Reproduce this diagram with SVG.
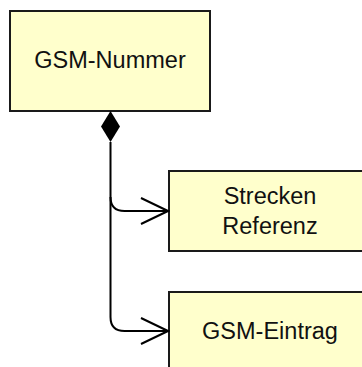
<svg xmlns="http://www.w3.org/2000/svg" width="362" height="367" viewBox="0 0 362 367">
  <style>
    .box { fill: #ffffcc; stroke: #1a1a1a; stroke-width: 2; }
    .lbl { font-family: "Liberation Sans", Arial, sans-serif; font-size: 23.5px; fill: #111; text-anchor: middle; }
    .conn { fill: none; stroke: #000; stroke-width: 2; }
  </style>
  <defs>
    <marker id="open" markerWidth="30" markerHeight="30" refX="28" refY="14" orient="auto" markerUnits="userSpaceOnUse">
      <path d="M1,1 L28,14 L1,27" fill="none" stroke="#000" stroke-width="2"/>
    </marker>
  </defs>
  <rect width="362" height="367" fill="#ffffff"/>
  <g id="node-gsm-nummer">
    <rect class="box" x="10" y="11" width="200" height="100"/>
    <text class="lbl" x="110" y="68">GSM-Nummer</text>
  </g>
  <g id="node-strecken-referenz">
    <rect class="box" x="169" y="171" width="200" height="80"/>
    <text class="lbl" x="270" y="204">Strecken</text>
    <text class="lbl" x="270" y="234">Referenz</text>
  </g>
  <g id="node-gsm-eintrag">
    <rect class="box" x="169" y="292" width="200" height="90"/>
    <text class="lbl" x="270" y="339">GSM-Eintrag</text>
  </g>
  <g id="connectors">
    <polygon points="110.5,111 120,126.5 110.5,142 101,126.5" fill="#000"/>
    <path class="conn" d="M110.5,142 L110.5,197 Q110.5,211 124.5,211 L168,211" marker-end="url(#open)"/>
    <path class="conn" d="M110.5,197 L110.5,317 Q110.5,331 124.5,331 L168,331" marker-end="url(#open)"/>
  </g>
</svg>
